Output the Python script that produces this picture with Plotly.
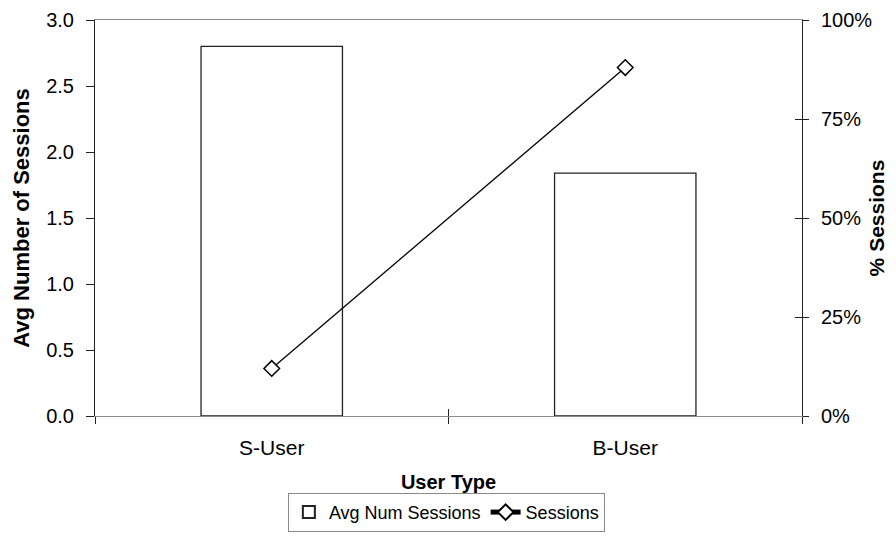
import plotly.graph_objects as go

categories = ["S-User", "B-User"]
avg_sessions = [2.80, 1.84]
pct_sessions = [0.12, 0.88]
left_ticks = [0, 0.5, 1.0, 1.5, 2.0, 2.5, 3.0]
right_ticks = [0, 0.25, 0.5, 0.75, 1.0]

FONT = "Liberation Sans, Arial, sans-serif"
DARK = "#222222"
GRAY = "#8a8a8a"

fig = go.Figure()
fig.add_trace(go.Bar(
    x=categories, y=avg_sessions, name="Avg Num Sessions",
    width=0.4, marker=dict(color="white", line=dict(color=DARK, width=1.3)),
    yaxis="y",
))
fig.add_trace(go.Scatter(
    x=categories, y=pct_sessions, name="Sessions", mode="lines+markers",
    line=dict(color="black", width=1.3),
    marker=dict(symbol="diamond", size=12, color="white",
                line=dict(color="black", width=1.5)),
    yaxis="y2",
))
# helper traces so the overlay axes (crossing tick halves) get drawn
fig.add_trace(go.Scatter(x=[None], y=[None], xaxis="x3", yaxis="y",
                         showlegend=False, hoverinfo="skip"))
fig.add_trace(go.Scatter(x=[None], y=[None], xaxis="x", yaxis="y3",
                         showlegend=False, hoverinfo="skip"))

fig.update_layout(
    width=880, height=526,
    margin=dict(l=87, r=86, t=12, b=118, autoexpand=False),
    paper_bgcolor="white", plot_bgcolor="white",
    font=dict(family=FONT, size=20, color="black"),
    xaxis=dict(
        type="category", categoryorder="array", categoryarray=categories,
        range=[-0.5, 1.5],
        showline=True, linecolor=GRAY, linewidth=1, mirror=True,
        ticks="outside", ticklen=7, tickcolor=DARK, tickson="boundaries",
        ticklabelstandoff=13, tickfont=dict(size=21),
        showgrid=False, zeroline=False, automargin=False,
        title=dict(text="<b>User Type</b>", standoff=20,
                   font=dict(size=20)),
    ),
    xaxis3=dict(
        overlaying="x", anchor="y", type="linear", range=[-0.5, 1.5],
        tickvals=[0.5], ticks="inside", ticklen=7, tickcolor=DARK,
        showticklabels=False, showline=False, showgrid=False,
        zeroline=False, automargin=False,
    ),
    yaxis=dict(
        range=[0, 3.0], tickvals=left_ticks, tickformat=".1f",
        showline=True, linecolor=DARK, linewidth=1,
        ticks="outside", ticklen=8, tickcolor=DARK,
        ticklabelstandoff=8,
        showgrid=False, zeroline=False, automargin=False,
        title=dict(text="<b>Avg Number of Sessions</b>", standoff=10,
                   font=dict(size=22)),
    ),
    yaxis2=dict(
        overlaying="y", side="right", anchor="x",
        range=[0, 1.0], tickvals=right_ticks, tickformat=".0%",
        showline=True, linecolor=DARK, linewidth=1,
        ticks="outside", ticklen=6, tickcolor=DARK,
        ticklabelstandoff=8,
        showgrid=False, zeroline=False, automargin=False,
        title=dict(text="<b>% Sessions</b>", standoff=1,
                   font=dict(size=21)),
    ),
    yaxis3=dict(
        overlaying="y", side="right", anchor="x",
        range=[0, 1.0], tickvals=right_ticks, ticks="inside",
        ticklen=7, tickcolor=DARK, showticklabels=False,
        showline=False, showgrid=False, zeroline=False, automargin=False,
    ),
    legend=dict(
        orientation="h", x=0.497, xanchor="center",
        y=0.004, yref="container", yanchor="bottom",
        bordercolor=GRAY, borderwidth=1, bgcolor="white",
        font=dict(size=18), itemsizing="constant",
        traceorder="normal", itemwidth=30,
    ),
    showlegend=True,
)

fig.write_html("out.html")
